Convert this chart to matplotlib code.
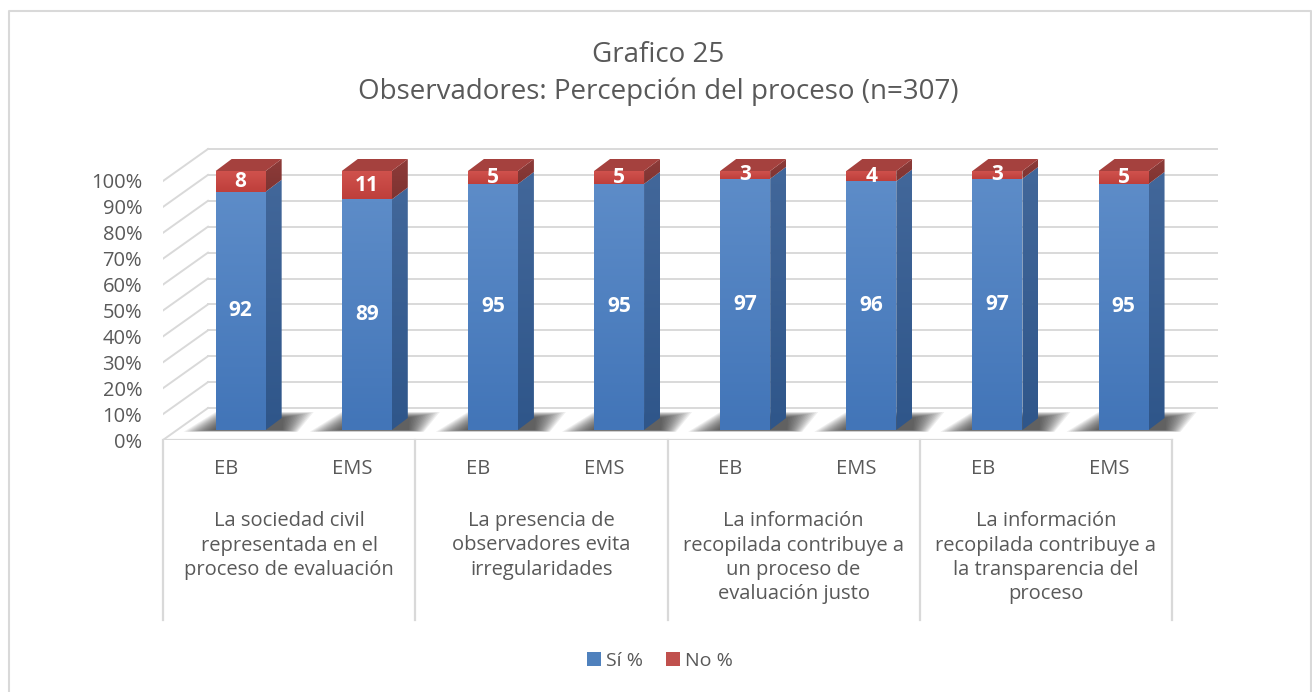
import numpy as np
import matplotlib.pyplot as plt
from matplotlib.patches import Polygon, Patch
from matplotlib.colors import LinearSegmentedColormap
from matplotlib.lines import Line2D

plt.rcParams['font.family'] = ['Open Sans', 'DejaVu Sans']

# datos
niveles = ['EB', 'EMS', 'EB', 'EMS', 'EB', 'EMS', 'EB', 'EMS']
grupos = [
    ['La sociedad civil', 'representada en el', 'proceso de evaluación'],
    ['La presencia de', 'observadores evita', 'irregularidades'],
    ['La información', 'recopilada contribuye a', 'un proceso de', 'evaluación justo'],
    ['La información', 'recopilada contribuye a', 'la transparencia del', 'proceso'],
]
si = [92, 89, 95, 95, 97, 96, 97, 95]
no = [8, 11, 5, 5, 3, 4, 3, 5]
ticks = list(range(0, 101, 10))
titulo = 'Grafico 25'
subtitulo = 'Observadores: Percepción del proceso (n=307)'

GRIS = '#595959'
LINEA = '#D9D9D9'

W, H = 1312, 692
fig = plt.figure(figsize=(W / 100, H / 100), dpi=100)

# pixel layout of the front plane
left_px, right_px, zero_px, full_px = 163, 1172, 440, 181
n = len(si)
ux = (right_px - left_px) / n      # px per category
uy = (zero_px - full_px) / 100     # px per percent
top_px, far_px = 140, 1230

ax = fig.add_axes([left_px / W, 1 - zero_px / H,
                   (far_px - left_px) / W, (zero_px - top_px) / H])
xmax = (far_px - left_px) / ux
ymax = (zero_px - top_px) / uy
ax.patch.set_visible(False)


def px_x(p):
    return p / ux


def px_y(p):
    return p / uy


# back wall / side wall / floor
WX, WY = px_x(45), px_y(32)
for t in ticks:
    ax.plot([0, WX], [t, t + WY], color=LINEA, lw=1.4, zorder=1)
    ax.plot([WX, n + WX], [t + WY, t + WY], color=LINEA, lw=1.4, zorder=1)
ax.plot([0, n], [0, 0], color=LINEA, lw=1.6, zorder=1)

# category table
cat_y = lambda p: (zero_px - p) / (zero_px - top_px)
for b in range(0, n + 1, 2):
    ax.plot([b, b], [0, px_y(-180)], color=LINEA, lw=1.6, clip_on=False, zorder=1)
for i, lab in enumerate(niveles):
    ax.text(i + 0.5, cat_y(469), lab, transform=ax.get_xaxis_transform(),
            ha='center', va='center', fontsize=14.5, color=GRIS)
for g, lineas in enumerate(grupos):
    for k, s in enumerate(lineas):
        ax.text(2 * g + 1, cat_y(521 + 24.5 * k), s, transform=ax.get_xaxis_transform(),
                ha='center', va='center', fontsize=14.5, color=GRIS)


def face(verts, c_top, c_bot, z):
    poly = Polygon(verts, closed=True, facecolor='none', edgecolor='none', zorder=z)
    ax.add_patch(poly)
    xs = [v[0] for v in verts]
    ys = [v[1] for v in verts]
    cmap = LinearSegmentedColormap.from_list('g', [c_bot, c_top])
    grad = np.linspace(0, 1, 64).reshape(-1, 1)
    im = ax.imshow(grad, extent=[min(xs), max(xs), min(ys), max(ys)], origin='lower',
                   cmap=cmap, aspect='auto', zorder=z, interpolation='bilinear')
    im.set_clip_path(poly)


# bars
BX, BY = px_x(14.6), px_y(10)
bw = px_x(50)
DX, DY = px_x(16), px_y(12)
for i in range(n):
    xl = i + 0.5 + BX - bw / 2
    xr = xl + bw
    # soft floor shadow
    for k in range(16):
        f = 1 - k / 16
        ex = px_x(32 * f)
        ey = px_y(6 * f)
        ax.add_patch(Polygon([(xl - ex, BY - ey * 0.3), (xr + DX + ex * 0.5, BY - ey * 0.3),
                              (xr + DX + ex, BY + DY + ey), (xl + DX - ex * 0.5, BY + DY + ey)],
                             closed=True, facecolor='#202020', edgecolor='none',
                             alpha=0.07, zorder=2))
    b_top = BY + si[i]
    r_top = b_top + no[i]
    face([(xl, BY), (xr, BY), (xr, b_top), (xl, b_top)], '#5D8CC8', '#4275B8', 3)
    face([(xr, BY), (xr + DX, BY + DY), (xr + DX, b_top + DY), (xr, b_top)],
         '#42679A', '#2F568A', 3)
    face([(xl, b_top), (xr, b_top), (xr, r_top), (xl, r_top)], '#D0524D', '#BE3F3B', 3)
    face([(xr, b_top), (xr + DX, b_top + DY), (xr + DX, r_top + DY), (xr, r_top)],
         '#8E3B39', '#7E3432', 3)
    ax.add_patch(Polygon([(xl, r_top), (xr, r_top), (xr + DX, r_top + DY), (xl + DX, r_top + DY)],
                         closed=True, facecolor='#A5413E', edgecolor='none', zorder=3))
    ax.text((xl + xr) / 2, BY + si[i] / 2, str(si[i]), ha='center', va='center',
            color='white', fontsize=15, fontweight='bold', zorder=5)
    ax.text((xl + xr) / 2, b_top + no[i] / 2, str(no[i]), ha='center', va='center',
            color='white', fontsize=15, fontweight='bold', zorder=5)

ax.set_xlim(0, xmax)
ax.set_ylim(0, ymax)
ax.set_xticks([])
ax.set_yticks(ticks)
ax.set_yticklabels([f'{t}%' for t in ticks])
ax.tick_params(axis='y', length=0, pad=15, labelsize=14.5, labelcolor=GRIS)
for sp in ax.spines.values():
    sp.set_visible(False)

# titles
fig.text(658 / W, 1 - 62 / H, titulo, ha='center', va='baseline', fontsize=20, color=GRIS)
fig.text(658 / W, 1 - 99 / H, subtitulo, ha='center', va='baseline', fontsize=20, color=GRIS)

# legend
fig.legend(handles=[Patch(facecolor='#4F81BD'), Patch(facecolor='#C0504D')],
           labels=['Sí %', 'No %'], loc='center', bbox_to_anchor=(660 / W, 1 - 661 / H),
           ncol=2, frameon=False, fontsize=14, handlelength=0.7, handleheight=0.7,
           handletextpad=0.25, columnspacing=1.2, labelcolor=GRIS)

# chart frame
fig.add_artist(Line2D([8.5 / W, 8.5 / W, 1310.5 / W, 1310.5 / W], [0, 1 - 11 / H, 1 - 11 / H, 0],
                      transform=fig.transFigure, color=LINEA, lw=1.5))

fig.savefig('out.png', dpi=100, facecolor='white')
